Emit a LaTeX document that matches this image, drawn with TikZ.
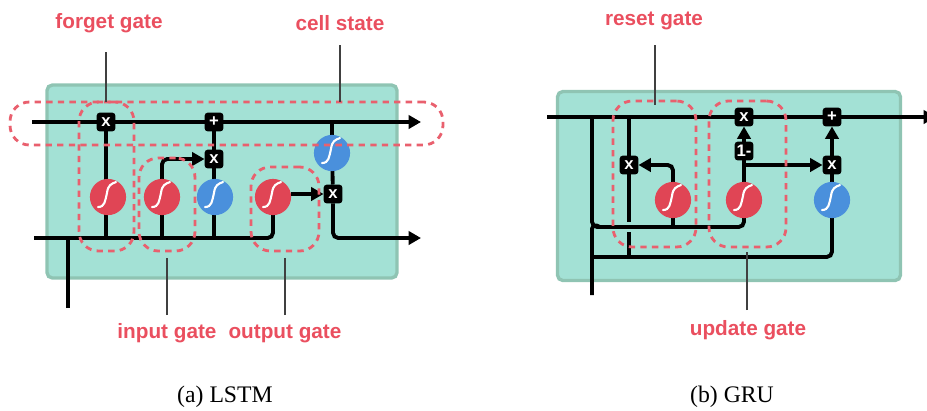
\documentclass[tikz,border=0pt]{standalone}
\usepackage{fontspec}
\setmainfont{Liberation Serif}
\setsansfont{Liberation Sans}
\usetikzlibrary{arrows.meta, backgrounds}

\definecolor{cellfill}{HTML}{A3E1D5}
\definecolor{celledge}{HTML}{8FC4B3}
\definecolor{gatered}{HTML}{E04555}
\definecolor{gateblue}{HTML}{4A90DC}
\definecolor{dashred}{HTML}{E9606E}
\definecolor{labelred}{HTML}{EA4F5F}

\begin{document}
\begin{tikzpicture}[
    x=0.02cm, y=-0.02cm,
    cell/.style={
        rectangle, rounded corners=3pt, draw=celledge, fill=cellfill,
        line width=1.9pt, inner sep=0pt, outer sep=0pt,
    },
    sigmoid/.style={
        circle, fill=#1, minimum size=20.6pt, inner sep=0pt, outer sep=0pt,
        path picture={
            \draw[white, line width=1.2pt, line cap=round,
                  shift={(path picture bounding box.center)}]
                (-10,10) .. controls (-3,10) and (-3,4) .. (-1,-4)
                .. controls (0,-12) and (3,-13) .. (8,-15);
        },
    },
    op/.style={
        rectangle, rounded corners=2pt, fill=black, text=white,
        font=\sffamily\bfseries\fontsize{9.5}{10}\selectfont, minimum size=10.8pt,
        inner sep=0pt, outer sep=0pt,
    },
    gate/.style={
        rectangle, rounded corners=11pt, draw=dashred, line width=1.6pt,
        dash pattern=on 3.6pt off 3pt, inner sep=0pt, outer sep=0pt,
    },
    wire/.style={line width=2.2pt, rounded corners=3pt},
    flow/.style={wire, -{Triangle[length=7pt, width=7.5pt]}},
    leader/.style={line width=0.7pt, black!75},
    tag/.style={font=\sffamily\bfseries\fontsize{11.8}{14}\selectfont, text=labelred},
]
\useasboundingbox (0,0) rectangle (927,410);

% --- LSTM operators and activations ---
\node[op] at (106, 122) (lforgetx) {x};
\node[op] at (214, 122) (lplus) {+};
\node[op] at (214, 159) (linputx) {x};
\node[op] at (333, 194) (loutx) {x};
\node[sigmoid=gatered] at (108, 197) (lforget) {};
\node[sigmoid=gatered] at (162, 197) (linput) {};
\node[sigmoid=gateblue] at (215, 197) (lcand) {};
\node[sigmoid=gatered] at (273, 197) (loutput) {};
\node[sigmoid=gateblue] at (332, 153) (ltanh) {};

% --- LSTM free wire ends ---
\coordinate (lcellin) at (32, 122);
\coordinate (lcellout) at (421, 122);
\coordinate (lhidin) at (34, 238);
\coordinate (lhidout) at (421, 238);
\coordinate (lxin) at (68, 308);

% --- LSTM wires and box ---
\begin{scope}[on background layer]
\node[cell, minimum width=7.0cm, minimum height=3.86cm] at (222, 181.5) (lstmbox) {};
\draw[flow] (lcellin) -- (lcellout);
\draw[wire] (lhidin) -- (lhidin -| loutput) -- (loutput.south);
\draw[wire] (lxin) -- (lxin |- lhidin);
\draw[wire] (lforgetx) -- (lforgetx |- lhidin);
\draw[wire] (lplus) -- (linputx);
\draw[wire] (linputx) -- (linputx |- lhidin);
\draw[flow] (linput.north) |- (linputx.west);
\draw[wire] (linput) -- (linput |- lhidin);
\draw[wire] (ltanh.north) -- (ltanh.north |- lcellout);
\draw[wire] (ltanh) -- (loutx);
\draw[flow] (loutput.east |- loutx) -- (loutx.west);
\draw[flow] (loutx.south) |- (lhidout);
\end{scope}

% --- LSTM dashed gates ---
\node[gate, minimum width=8.66cm, minimum height=0.86cm] at (226.5, 123.5) (lcellgate) {};
\node[gate, minimum width=1.1cm, minimum height=2.98cm] at (106.5, 176.5) (lforgetgate) {};
\node[gate, minimum width=1.12cm, minimum height=1.86cm] at (167, 204.5) (linputgate) {};
\node[gate, minimum width=1.36cm, minimum height=1.68cm] at (285, 209) (loutputgate) {};

% --- LSTM labels ---
\node[tag] at (109, 23) (tforget) {forget gate};
\node[tag] at (340, 23) (tcell) {cell state};
\node[tag] at (167, 333) (tinput) {input gate};
\node[tag] at (285, 334) (toutput) {output gate};
\coordinate (cforget) at (106, 52);
\coordinate (ccell) at (340, 45);
\coordinate (cinput) at (167, 315);
\coordinate (coutput) at (285, 315);
\draw[leader] (cforget) -- (cforget |- lforgetgate.north);
\draw[leader] (ccell) -- (ccell |- lcellgate.north);
\draw[leader] (cinput) -- ([yshift=-4pt]cinput |- linputgate.south);
\draw[leader] (coutput) -- ([yshift=-4pt]coutput |- loutputgate.south);

% --- GRU operators and activations ---
\node[op] at (744, 117) (gupx) {x};
\node[op] at (832, 117) (gplus) {+};
\node[op] at (744, 151) (gone) {1-};
\node[op] at (832, 165) (gcandx) {x};
\node[op] at (629, 165) (gresetx) {x};
\node[sigmoid=gatered] at (673, 200) (greset) {};
\node[sigmoid=gatered] at (744, 200) (gupdate) {};
\node[sigmoid=gateblue] at (832, 200) (gcand) {};

% --- GRU free wire ends ---
\coordinate (gcellin) at (547, 117);
\coordinate (gcellout) at (936, 117);
\coordinate (gxin) at (592, 295);
\coordinate (gjoin) at (592, 227);
\coordinate (gbus) at (592, 257);
\coordinate (gleft) at (629, 117);
\coordinate (gleftend) at (629, 222);
\coordinate (gleftlow) at (629, 232);
\coordinate (gcorner) at (600, 227);

% --- GRU wires and box ---
\begin{scope}[on background layer]
\node[cell, minimum width=6.86cm, minimum height=3.78cm] at (729, 186) (grubox) {};
\draw[flow] (gcellin) -- (gcellout);
\draw[wire] (gcellin -| gjoin) -- (gjoin) -- (gupdate.south |- gjoin) -- (gupdate.south);
\draw[wire] (gxin) -- ([yshift=2pt]gjoin) -- (gcorner);
\draw[wire] (gbus) -- (gbus -| gcand) -- (gcand.south);
\draw[wire] (gleft) -- (gleftend);
\draw[wire] (gleftlow) -- (gleftlow |- gbus);
\draw[wire] (greset.south) -- (greset.south |- gjoin);
\draw[flow] (greset.north) |- (gresetx.east);
\draw[wire] (gupdate.north) -- (gone.south);
\draw[flow] (gone.north) -- (gupx.south);
\draw[flow] (gone.south |- gcandx) -- (gcandx.west);
\draw[wire] (gcand) -- (gcandx);
\draw[flow] (gcandx.north) -- (gplus.south);
\end{scope}

% --- GRU dashed gates ---
\node[gate, minimum width=1.66cm, minimum height=2.92cm] at (654.5, 174) (gresetgate) {};
\node[gate, minimum width=1.54cm, minimum height=2.92cm] at (747.5, 174) (gupdategate) {};

% --- GRU labels ---
\node[tag] at (654, 21) (treset) {reset gate};
\node[tag] at (748, 330) (tupdate) {update gate};
\coordinate (creset) at (655, 45);
\coordinate (cupdate) at (747, 310);
\draw[leader] (creset) -- ([yshift=-2pt]creset |- gresetgate.north);
\draw[leader] (cupdate) -- ([yshift=-3pt]cupdate |- gupdategate.south);

% --- Captions ---
\node at (225, 397) (capa) {\fontsize{13.5}{15}\selectfont (a) LSTM};
\node at (732, 397) (capb) {\fontsize{13.5}{15}\selectfont (b) GRU};

\end{tikzpicture}
\end{document}
